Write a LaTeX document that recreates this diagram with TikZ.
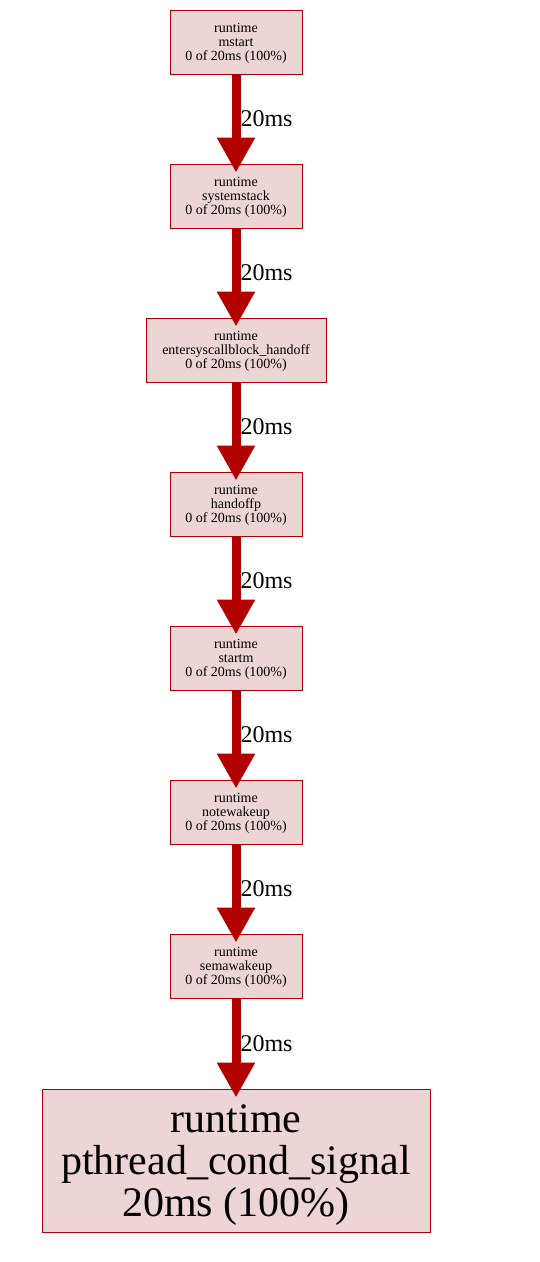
\documentclass[tikz,border=0pt]{standalone}
\usepackage{fontspec}
\setmainfont{Liberation Serif}
\usepackage{xcolor}
\usetikzlibrary{arrows.meta}
\definecolor{fnborder}{HTML}{B20000}
\definecolor{fnfill}{HTML}{EDD5D5}

\begin{document}
\begin{tikzpicture}[x=1pt,y=-1pt,
  fn/.style={draw=fnborder,line width=1pt,fill=fnfill,minimum width=132pt,
             minimum height=64pt,inner sep=0pt,align=center,text depth=0pt,
             font=\fontsize{14}{14}\selectfont},
  leaf/.style={fn,minimum width=388pt,minimum height=143pt,
               font=\fontsize{42}{42}\selectfont},
  arr/.style={-{Triangle[length=35pt,width=36pt]},line width=9pt,draw=fnborder,
              shorten >=-9pt},
  lbl/.style={anchor=west,inner sep=0pt,xshift=0pt,font=\fontsize{24}{24}\selectfont}
]
\useasboundingbox (0,0) rectangle (540,1262);

\node[fn] (mstart) at (236,42) {runtime\\mstart\\0 of 20ms (100\%)};
\node[fn] (sysstack) at (236,196) {runtime\\systemstack\\0 of 20ms (100\%)};
\node[fn,minimum width=180pt] (enter) at (236,350) {runtime\\entersyscallblock\_handoff\\0 of 20ms (100\%)};
\node[fn] (handoffp) at (236,504) {runtime\\handoffp\\0 of 20ms (100\%)};
\node[fn] (startm) at (236,658) {runtime\\startm\\0 of 20ms (100\%)};
\node[fn] (notewake) at (236,812) {runtime\\notewakeup\\0 of 20ms (100\%)};
\node[fn] (semawake) at (236,966) {runtime\\semawakeup\\0 of 20ms (100\%)};
\node[leaf] (condsig) at (236,1160.5) {runtime\\pthread\_cond\_signal\\20ms (100\%)};

\draw[arr] (mstart.south)--(sysstack.north) node[lbl,midway] {20ms};
\draw[arr] (sysstack.south)--(enter.north) node[lbl,midway] {20ms};
\draw[arr] (enter.south)--(handoffp.north) node[lbl,midway] {20ms};
\draw[arr] (handoffp.south)--(startm.north) node[lbl,midway] {20ms};
\draw[arr] (startm.south)--(notewake.north) node[lbl,midway] {20ms};
\draw[arr] (notewake.south)--(semawake.north) node[lbl,midway] {20ms};
\draw[arr] (semawake.south)--(condsig.north) node[lbl,midway] {20ms};
\end{tikzpicture}
\end{document}
